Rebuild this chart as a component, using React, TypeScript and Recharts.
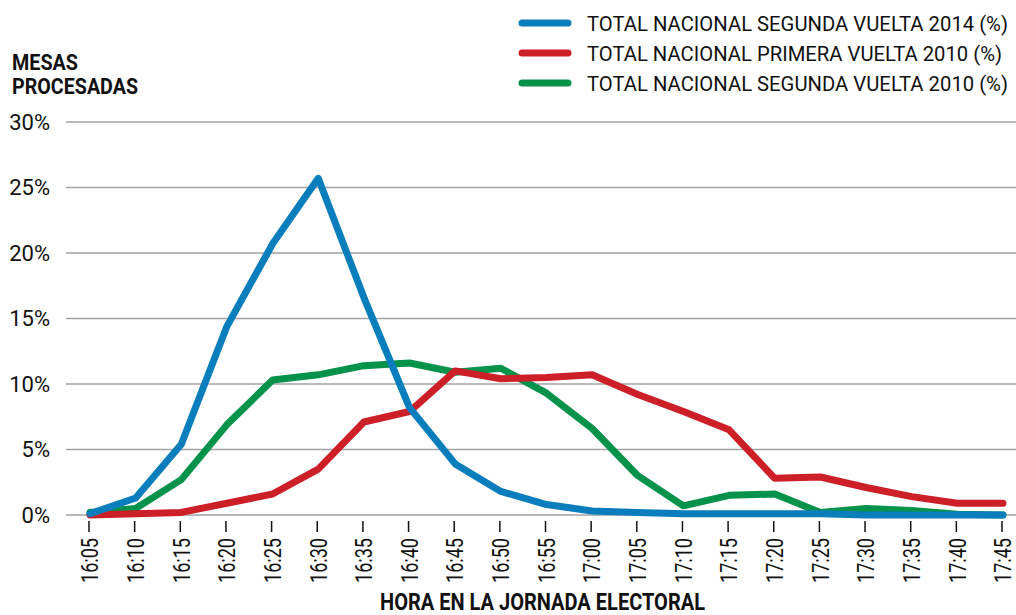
import { LineChart, Line, XAxis, YAxis, CartesianGrid } from 'recharts';

const FONT = "Roboto, 'Noto Sans', sans-serif";

const times = [
  '16:05', '16:10', '16:15', '16:20', '16:25', '16:30', '16:35', '16:40', '16:45', '16:50', '16:55',
  '17:00', '17:05', '17:10', '17:15', '17:20', '17:25', '17:30', '17:35', '17:40', '17:45'
];

// % de mesas procesadas en cada corte
const segunda2014 = [0.1, 1.3, 5.4, 14.4, 20.7, 25.7, 16.6, 8.2, 3.9, 1.8, 0.8, 0.3, 0.2, 0.1, 0.1, 0.1, 0.1, 0.0, 0.0, 0.0, 0.0];
const primera2010 = [0.0, 0.1, 0.2, 0.9, 1.6, 3.5, 7.1, 7.9, 11.0, 10.4, 10.5, 10.7, 9.2, 7.9, 6.5, 2.8, 2.9, 2.1, 1.4, 0.9, 0.9];
const segunda2010 = [0.2, 0.5, 2.7, 6.9, 10.3, 10.7, 11.4, 11.6, 10.9, 11.2, 9.3, 6.6, 3.0, 0.7, 1.5, 1.6, 0.2, 0.5, 0.35, 0.05, 0.0];

const yTicks = [0, 5, 10, 15, 20, 25, 30];

const series = [
  { key: 's2014', name: 'TOTAL NACIONAL SEGUNDA VUELTA 2014 (%)', color: '#0a7dbd', textW: 421 },
  { key: 'p2010', name: 'TOTAL NACIONAL PRIMERA VUELTA 2010 (%)', color: '#cc1f27', textW: 415 },
  { key: 's2010', name: 'TOTAL NACIONAL SEGUNDA VUELTA 2010 (%)', color: '#05924a', textW: 421 },
];

const data = times.map((t, i) => ({
  time: t,
  s2014: segunda2014[i],
  p2010: primera2010[i],
  s2010: segunda2010[i],
}));

function TimeTick(props: any) {
  const { x, y, payload } = props;
  return (
    <g transform={`translate(${x},${y})`}>
      <line x1={-1} x2={-1} y1={6} y2={17} stroke="#111" strokeWidth={1.5} />
      <text
        transform="rotate(-90)"
        x={-23}
        y={0}
        dy="0.36em"
        textAnchor="end"
        fill="#111"
        fontSize={23}
        fontFamily={FONT}
        textLength={45}
        lengthAdjust="spacingAndGlyphs"
      >
        {payload.value}
      </text>
    </g>
  );
}

export default function App() {
  return (
    <div style={{ position: 'absolute', left: 0, top: 0, width: 1016, height: 615, background: '#fff', fontFamily: FONT }}>
      <LineChart width={1016} height={615} data={data} margin={{ top: 122, right: 0, bottom: 0, left: 0 }}>
        <CartesianGrid vertical={false} stroke="#a3a3a3" strokeWidth={1.5} />
        <XAxis
          dataKey="time"
          interval={0}
          height={100}
          axisLine={false}
          tickLine={false}
          tickSize={0}
          tickMargin={0}
          padding={{ left: 24, right: 13 }}
          tick={<TimeTick />}
        />
        <YAxis
          width={66}
          domain={[0, 30]}
          ticks={yTicks}
          axisLine={false}
          tickLine={false}
          tickSize={0}
          tickMargin={16}
          tickFormatter={(v: number) => `${v}%`}
          tick={{ fill: '#111', fontSize: 22, fontFamily: FONT }}
        />
        {[...series].reverse().map((s) => (
          <Line
            key={s.key}
            dataKey={s.key}
            name={s.name}
            stroke={s.color}
            strokeWidth={7}
            strokeLinecap="round"
            strokeLinejoin="round"
            dot={false}
            activeDot={false}
            isAnimationActive={false}
          />
        ))}
      </LineChart>

      <svg width={1016} height={615} style={{ position: 'absolute', left: 0, top: 0, pointerEvents: 'none' }}>
        <g fontFamily={FONT} fill="#111">
          <text x={12} y={70} fontSize={22} fontWeight={700} textLength={66} lengthAdjust="spacingAndGlyphs">MESAS</text>
          <text x={12} y={94} fontSize={22} fontWeight={700} textLength={126} lengthAdjust="spacingAndGlyphs">PROCESADAS</text>
          <text x={380} y={610} fontSize={23} fontWeight={700} textLength={325} lengthAdjust="spacingAndGlyphs">
            HORA EN LA JORNADA ELECTORAL
          </text>
          {series.map((s, i) => (
            <g key={s.key} transform={`translate(0,${23 + i * 30})`}>
              <line x1={522} x2={568} y1={0} y2={0} stroke={s.color} strokeWidth={7} strokeLinecap="round" />
              <text x={587} y={8} fontSize={20} textLength={s.textW} lengthAdjust="spacingAndGlyphs">{s.name}</text>
            </g>
          ))}
        </g>
      </svg>
    </div>
  );
}
